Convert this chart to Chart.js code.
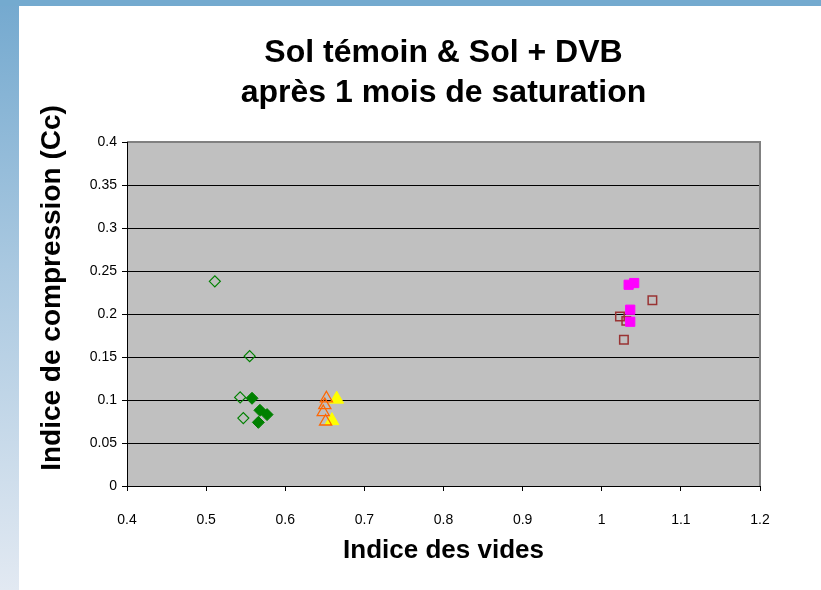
<!DOCTYPE html>
<html>
<head>
<meta charset="utf-8">
<script src="https://cdn.jsdelivr.net/npm/chart.js@4/dist/chart.umd.min.js"></script>
<style>
  html, body { margin: 0; padding: 0; }
  body {
    width: 821px; height: 590px; overflow: hidden; position: relative;
    background: linear-gradient(to bottom, #74a9cf 0%, #a9c8e0 45%, #e2e9f2 100%);
  }
  #topband { position: absolute; left: 0; top: 0; width: 821px; height: 6px; background: #74aacf; }
  #wrap { position: absolute; left: 19px; top: 6px; width: 802px; height: 584px; background: #ffffff; }
  canvas { display: block; }
</style>
</head>
<body>
<div id="topband"></div>
<div id="wrap"><canvas id="c" width="802" height="584"></canvas></div>
<script>
// ---- Data ----
const titleLines = ["Sol témoin & Sol + DVB", "après 1 mois de saturation"];
const xAxisTitle = "Indice des vides";
const yAxisTitle = "Indice de compression (Cc)";

const xTicks = [0.4, 0.5, 0.6, 0.7, 0.8, 0.9, 1, 1.1, 1.2];
const yTicks = [0, 0.05, 0.1, 0.15, 0.2, 0.25, 0.3, 0.35, 0.4];

const temoinOpenX = [0.511, 0.555, 0.543, 0.547];
const temoinOpenY = [0.238, 0.151, 0.103, 0.079];

const temoinFilledX = [0.558, 0.568, 0.577, 0.566];
const temoinFilledY = [0.102, 0.088, 0.083, 0.074];

const dvbOpenTriX = [0.652, 0.650, 0.648, 0.651];
const dvbOpenTriY = [0.102, 0.094, 0.086, 0.075];

const dvbYellowX = [0.665, 0.659];
const dvbYellowY = [0.101, 0.076];

const magentaX = [1.041, 1.034, 1.036, 1.036];
const magentaY = [0.236, 0.234, 0.205, 0.191];

const redOpenX = [1.064, 1.023, 1.031, 1.028];
const redOpenY = [0.216, 0.197, 0.192, 0.170];

function pts(xs, ys) { return xs.map((x, i) => ({ x: x, y: ys[i] })); }

const FONT = "'Liberation Sans', Arial, Helvetica, sans-serif";

const plotBg = {
  id: 'plotBg',
  beforeDraw(chart) {
    const { ctx, chartArea: a } = chart;
    ctx.save();
    ctx.fillStyle = '#c0c0c0';
    ctx.fillRect(a.left, a.top, a.right - a.left, a.bottom - a.top);
    ctx.restore();
  },
  afterDatasetsDraw(chart) {
    const { ctx, chartArea: a } = chart;
    ctx.save();
    ctx.strokeStyle = '#808080';
    ctx.lineWidth = 2;
    ctx.beginPath();
    ctx.moveTo(a.left, a.top);
    ctx.lineTo(a.right, a.top);
    ctx.lineTo(a.right, a.bottom);
    ctx.stroke();
    ctx.strokeStyle = '#000';
    ctx.lineWidth = 1;
    ctx.beginPath();
    ctx.moveTo(a.left + 0.5, a.top);
    ctx.lineTo(a.left + 0.5, a.bottom + 0.5);
    ctx.lineTo(a.right, a.bottom + 0.5);
    ctx.stroke();
    ctx.restore();
  }
};

const textPlugin = {
  id: 'textPlugin',
  afterDraw(chart) {
    const { ctx, chartArea: a } = chart;
    ctx.save();
    ctx.fillStyle = '#000';
    ctx.font = 'bold 32px ' + FONT;
    ctx.textAlign = 'center';
    ctx.textBaseline = 'middle';
    const cx = (a.left + a.right) / 2;
    ctx.fillText(titleLines[0], cx, 47);
    ctx.fillText(titleLines[1], cx, 87);
    // vertical axis title
    ctx.font = 'bold 28px ' + FONT;
    ctx.translate(33, 282);
    ctx.rotate(-Math.PI / 2);
    ctx.fillText(yAxisTitle, 0, 0);
    ctx.restore();
  }
};

new Chart(document.getElementById('c'), {
  type: 'scatter',
  data: {
    datasets: [
      { label: 'Sol témoin (1)', data: pts(temoinOpenX, temoinOpenY), pointStyle: 'rectRot', pointRadius: 5.5, borderColor: '#008000', backgroundColor: 'rgba(0,0,0,0)', borderWidth: 1.2 },
      { label: 'Sol témoin (2)', data: pts(temoinFilledX, temoinFilledY), pointStyle: 'rectRot', pointRadius: 6, borderColor: '#008000', backgroundColor: '#008000', borderWidth: 1 },
      { label: 'Sol + DVB (1)', data: pts(dvbOpenTriX, dvbOpenTriY), pointStyle: 'triangle', pointRadius: 7, borderColor: '#ff6600', backgroundColor: 'rgba(0,0,0,0)', borderWidth: 1.3 },
      { label: 'Sol + DVB (2)', data: pts(dvbYellowX, dvbYellowY), pointStyle: 'triangle', pointRadius: 8, borderColor: '#ffff00', backgroundColor: '#ffff00', borderWidth: 1 },
      { label: 'Sol + DVB (3)', data: pts(magentaX, magentaY), pointStyle: 'rect', pointRadius: 6.5, borderColor: '#ff00ff', backgroundColor: '#ff00ff', borderWidth: 1 },
      { label: 'Sol + DVB (4)', data: pts(redOpenX, redOpenY), pointStyle: 'rect', pointRadius: 6, borderColor: '#993333', backgroundColor: 'rgba(0,0,0,0)', borderWidth: 1.5 }
    ]
  },
  options: {
    responsive: false,
    animation: false,
    devicePixelRatio: 1,
    layout: { padding: { left: 0, top: 136, right: 61, bottom: 0 } },
    plugins: {
      legend: { display: false },
      title: { display: false },
      tooltip: { enabled: false }
    },
    scales: {
      x: {
        type: 'linear',
        min: xTicks[0], max: xTicks[xTicks.length - 1],
        afterBuildTicks(scale) { scale.ticks = xTicks.map(v => ({ value: v })); },
        afterFit(scale) { scale.height = 104; },
        ticks: { color: '#000', font: { family: FONT, size: 14 }, padding: 21, maxRotation: 0, callback: v => String(v) },
        grid: { display: true, drawOnChartArea: false, drawTicks: true, tickLength: 5, color: '#000' },
        border: { display: true, color: '#000' },
        title: { display: true, text: xAxisTitle, color: '#000', font: { family: FONT, size: 26, weight: 'bold' }, padding: { top: 0, bottom: 24 } }
      },
      y: {
        type: 'linear',
        min: yTicks[0], max: yTicks[yTicks.length - 1],
        afterBuildTicks(scale) { scale.ticks = yTicks.map(v => ({ value: v })); },
        afterFit(scale) { scale.width = 108; },
        ticks: { color: '#000', font: { family: FONT, size: 14 }, padding: 5, callback: v => String(v) },
        grid: { display: true, drawOnChartArea: true, drawTicks: true, tickLength: 5, color: '#000', lineWidth: 1 },
        border: { display: true, color: '#000' },
        title: { display: false, text: yAxisTitle }
      }
    }
  },
  plugins: [plotBg, textPlugin]
});
</script>
</body>
</html>
